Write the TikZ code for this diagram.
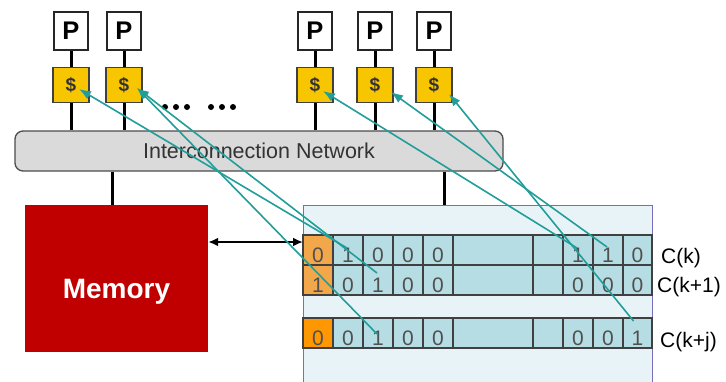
\documentclass[tikz,border=0pt]{standalone}
\usepackage{fontspec}
\setmainfont{Liberation Sans}
\usetikzlibrary{arrows.meta}
\definecolor{tealc}{RGB}{34,158,154}
\definecolor{cellc}{RGB}{183,221,228}
\definecolor{contfill}{RGB}{232,243,247}
\definecolor{contdraw}{RGB}{120,110,190}
\definecolor{orl}{RGB}{242,168,74}
\definecolor{ord}{RGB}{255,152,0}
\definecolor{memred}{RGB}{192,0,0}
\definecolor{cachey}{RGB}{248,198,0}
\definecolor{netgray}{RGB}{218,218,218}
\definecolor{txtgray}{RGB}{80,80,80}
\begin{document}
\begin{tikzpicture}[x=1pt,y=-1pt,
 pbox/.style={draw=black!85, fill=white, line width=1.3pt, minimum width=34pt, minimum height=38pt, inner sep=0pt, font=\fontsize{25.5}{26}\selectfont\bfseries},
 cbox/.style={draw=black!75, fill=cachey, line width=1.3pt, minimum width=36pt, minimum height=35pt, inner sep=0pt, font=\fontsize{19}{20}\selectfont\bfseries, text=black!80},
 bus/.style={line width=3pt, draw=black},
 netbox/.style={draw=black!70, fill=netgray, rounded corners=8pt, line width=1.3pt, minimum width=488pt, minimum height=40pt, inner sep=0pt, font=\fontsize{21.5}{22}\selectfont, text=black!80},
 cellbox/.style={draw=black!75, fill=cellc, line width=1.4pt, minimum height=30pt, inner sep=0pt, text height=25pt, text depth=0pt, font=\fontsize{21}{22}\selectfont, text=txtgray},
 lbl/.style={font=\fontsize{21}{22}\selectfont, inner sep=0pt, anchor=base west},
 tealarrow/.style={draw=tealc, line width=1.6pt, -{Latex[length=12pt,width=9pt]}},
 dblarrow/.style={draw=black, line width=2.4pt, {Latex[length=10pt,width=9pt]}-{Latex[length=10pt,width=9pt]}},
 dotmark/.style={fill=black, circle, inner sep=0pt, minimum size=6pt}
]
\clip (0,0) rectangle (726,381);
\fill[white] (0,0) rectangle (726,381);

% network
\node[netbox] (net) at (259,151) {Interconnection Network};

% processors and caches
\foreach \i/\x in {1/71, 2/124, 3/315, 4/375, 5/434}{
  \node[pbox] (p\i) at (\x,31) {P};
  \node[cbox] (ca\i) at (\x,85) {\$};
  \draw[bus] (p\i.south) -- (ca\i.north);
  \draw[bus] (ca\i.south) -- (ca\i.south |- net.north);
}

% dots
\foreach \k/\x in {1/165, 2/176, 3/187, 4/211, 5/222, 6/233}{
  \node[dotmark] (dot\k) at (\x,107) {};
}

% memory
\node[fill=memred, minimum width=183pt, minimum height=147pt, inner sep=0pt] (mem) at (116.5,278.5) {};
\node[font=\fontsize{28}{30}\selectfont\bfseries, text=white, inner sep=0pt] (memlbl) at (116.5,292) {Memory};

% directory container
\node[draw=contdraw, fill=contfill, line width=1.2pt, minimum width=349pt, minimum height=190pt, inner sep=0pt, anchor=north west] (cont) at (303,205) {};

% bus lines to memory and directory
\coordinate (busL) at (112,0);
\coordinate (busR) at (444,0);
\draw[bus] (net.south -| busL) -- (mem.north -| busL);
\draw[bus] (net.south -| busR) -- (cont.north -| busR);

% cells
\node[cellbox, fill=orl, minimum width=30pt] (r1c0) at (318,250) {0};
\node[cellbox, fill=orl, minimum width=30pt] (r2c0) at (318,280) {1};
\node[cellbox, fill=ord, minimum width=30pt] (r3c0) at (318,333) {0};
\foreach \cc/\x/\w/\va/\vb/\vc in {1/348/30/1/0/0, 2/378/30/0/1/1, 3/408/30/0/0/0, 4/438/30/0/0/0, 5/493/80/{}/{}/{}, 6/548/30/{}/{}/{}, 7/578/30/1/0/0, 8/608/30/1/0/0, 9/637.5/29/0/0/1}{
  \node[cellbox, minimum width=\w pt] (r1c\cc) at (\x,250) {\va};
  \node[cellbox, minimum width=\w pt] (r2c\cc) at (\x,280) {\vb};
  \node[cellbox, minimum width=\w pt] (r3c\cc) at (\x,333) {\vc};
}

% memory <-> directory
\coordinate (arrY) at (0,242);
\draw[dblarrow] (mem.east |- arrY) -- (cont.west |- arrY);

% labels
\node[lbl] (lk) at (661,263) {C(k)};
\node[lbl] (lk1) at (657,292) {C(k+1)};
\node[lbl] (lkj) at (660,347) {C(k+j)};

% presence pointers
\draw[tealarrow] ([shift={(-1,-2)}]r1c1.center) -- ([shift={(8,4)}]ca1.center);
\draw[tealarrow] ([shift={(-1,-7)}]r2c2.center) -- ([shift={(13,3)}]ca2.center);
\draw[tealarrow] ([shift={(-1,1)}]r3c2.center) -- ([shift={(13,3)}]ca2.center);
\draw[tealarrow] ([shift={(-1,-2)}]r1c7.center) -- ([shift={(8,6)}]ca3.center);
\draw[tealarrow] ([shift={(-1,-3)}]r1c8.center) -- ([shift={(16,7)}]ca4.center);
\draw[tealarrow] ([shift={(-4,-12)}]r3c9.center) -- ([shift={(15,9)}]ca5.center);
\end{tikzpicture}
\end{document}
